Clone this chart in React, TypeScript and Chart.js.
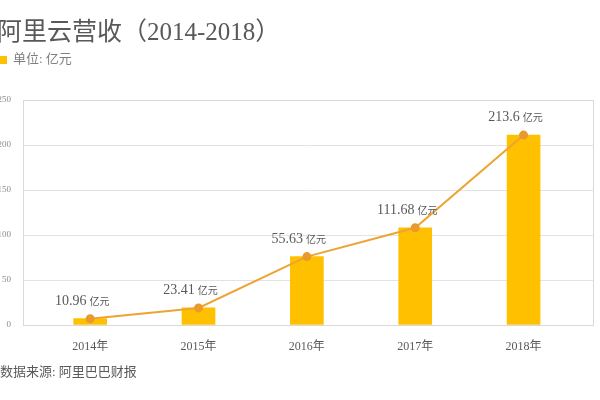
import React, { useEffect, useRef } from "react";
import { Chart, registerables } from "chart.js";

Chart.register(...registerables);

const years = ["2014年", "2015年", "2016年", "2017年", "2018年"];
const barHeights = [7, 19, 76, 108, 211];
const revenueLabels = ["10.96", "23.41", "55.63", "111.68", "213.6"];
const unitText = "亿元";
const yTicks = [0, 50, 100, 150, 200, 250];
const titleText = "阿里云营收（2014-2018）";
const legendText = "单位: 亿元";
const sourceText = "数据来源: 阿里巴巴财报";

const SERIF = "'Liberation Serif', 'Noto Sans CJK SC', serif";
const CJK = "'Noto Sans CJK SC', sans-serif";

const decor = {
  id: "decor",
  beforeDatasetsDraw(chart: any) {
    const { ctx, chartArea: a } = chart;
    ctx.save();
    ctx.strokeStyle = "#d9d9d9";
    ctx.lineWidth = 1;
    ctx.strokeRect(a.left + 0.5, a.top + 0.5, a.right - a.left - 1, a.bottom - a.top);
    ctx.restore();
  },
  afterDraw(chart: any) {
    const { ctx } = chart;
    ctx.save();
    ctx.fillStyle = "#595959";
    ctx.textBaseline = "middle";
    ctx.textAlign = "left";
    ctx.font = `25px ${SERIF}`;
    ctx.fillText(titleText, -3, 33);
    ctx.fillStyle = "#FFC000";
    ctx.fillRect(0, 56, 7, 8);
    ctx.fillStyle = "#7f7f7f";
    ctx.font = `13px ${SERIF}`;
    ctx.fillText(legendText, 13, 60);
    ctx.fillStyle = "#595959";
    ctx.font = `13px ${SERIF}`;
    ctx.fillText(sourceText, 0, 373);
    const meta = chart.getDatasetMeta(1);
    ctx.textBaseline = "alphabetic";
    meta.data.forEach((el: any, i: number) => {
      const num = revenueLabels[i];
      ctx.font = `14px ${SERIF}`;
      const w1 = ctx.measureText(num).width;
      ctx.font = `10px ${CJK}`;
      const w2 = ctx.measureText(unitText).width;
      const total = w1 + 3 + w2;
      const x0 = el.x - 8 - total / 2;
      const y0 = el.y - 14;
      ctx.fillStyle = "#595959";
      ctx.font = `14px ${SERIF}`;
      ctx.fillText(num, x0, y0);
      ctx.font = `10px ${CJK}`;
      ctx.fillText(unitText, x0 + w1 + 3, y0);
    });
    ctx.restore();
  },
};

export default function App() {
  const ref = useRef<HTMLCanvasElement>(null);
  useEffect(() => {
    if (!ref.current) return;
    const points = barHeights.map((v, i) => ({ x: i, y: v }));
    const chart = new Chart(ref.current, {
      type: "bar",
      data: {
        datasets: [
          {
            type: "bar",
            data: points,
            backgroundColor: "#FFC000",
            barThickness: 33,
            order: 1,
          } as any,
          {
            type: "line",
            data: points,
            borderColor: "#EDA433",
            borderWidth: 2,
            pointRadius: 3.5,
            pointBackgroundColor: "#E99A2C",
            pointBorderColor: "#E99A2C",
            tension: 0,
            order: 0,
          } as any,
        ],
      },
      options: {
        animation: false,
        responsive: false,
        devicePixelRatio: 1,
        layout: { padding: { top: 100, right: 5, bottom: 30, left: 0 } },
        plugins: {
          legend: { display: false },
          tooltip: { enabled: false },
          title: { display: false },
        },
        scales: {
          x: {
            type: "linear",
            offset: false,
            min: -0.62,
            max: 4.65,
            grid: { display: false, offset: false },
            border: { display: false },
            afterBuildTicks: (s: any) => {
              s.ticks = years.map((_, i) => ({ value: i }));
            },
            afterFit: (s: any) => {
              s.height = 45;
            },
            ticks: {
              autoSkip: false,
              maxRotation: 0,
              padding: 7,
              color: "#595959",
              font: { family: SERIF, size: 12 },
              callback: (v: any) => years[v as number] ?? "",
            },
          },
          y: {
            min: 0,
            max: 250,
            grid: { color: "#e3e3e3", drawTicks: false },
            border: { display: false },
            afterBuildTicks: (s: any) => {
              s.ticks = yTicks.map((v) => ({ value: v }));
            },
            afterFit: (s: any) => {
              s.width = 23;
            },
            ticks: {
              padding: 12,
              color: "#8c8c8c",
              font: { family: SERIF, size: 9 },
            },
          },
        },
      },
      plugins: [decor],
    });
    return () => chart.destroy();
  }, []);
  return (
    <div style={{ position: "absolute", left: 0, top: 0, width: 600, height: 400, background: "#fff" }}>
      <canvas ref={ref} width={600} height={400} />
    </div>
  );
}
